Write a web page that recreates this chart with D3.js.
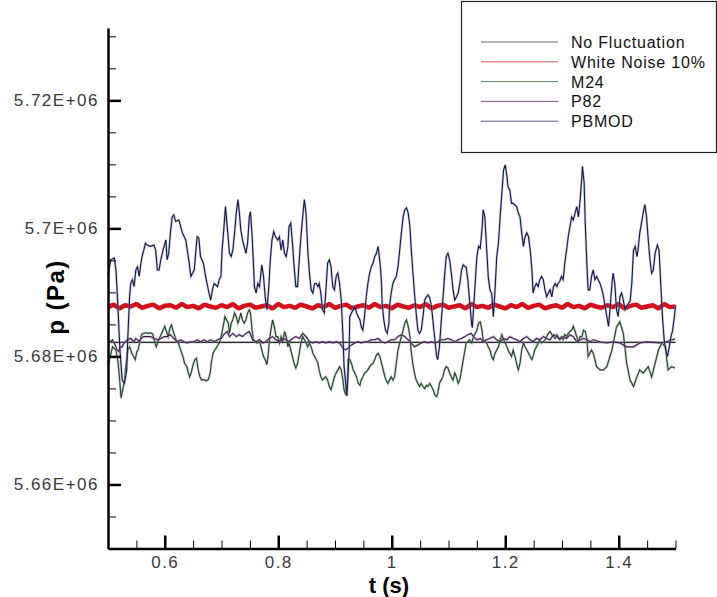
<!DOCTYPE html>
<html>
<head>
<meta charset="utf-8">
<script src="https://cdn.jsdelivr.net/npm/d3@7"></script>
<style>
  body { margin: 0; background: #fff; }
  svg { display: block; }
  text { font-family: "Liberation Sans", Arial, sans-serif; }
</style>
</head>
<body>
<div id="chart"></div>
<script>
// series, in legend order
const seriesNames = ["No Fluctuation", "White Noise 10%", "M24", "P82", "PBMOD"];
const seriesColors = ["#2b2b2b", "#d0101c", "#1d4a1d", "#4b1550", "#17174f"];

// [t (s), p (Pa)]
const noFluct = [[0.5, 5682200], [1.5, 5682200]];

const whiteNoiseTime = [0.50,0.51,0.52,0.53,0.54,0.55,0.56,0.57,0.58,0.59,0.60,0.61,0.62,0.63,0.64,0.65,0.66,0.67,0.68,0.69,
  0.70,0.71,0.72,0.73,0.74,0.75,0.76,0.77,0.78,0.79,0.80,0.81,0.82,0.83,0.84,0.85,0.86,0.87,0.88,0.89,
  0.90,0.91,0.92,0.93,0.94,0.95,0.96,0.97,0.98,0.99,1.00,1.01,1.02,1.03,1.04,1.05,1.06,1.07,1.08,1.09,
  1.10,1.11,1.12,1.13,1.14,1.15,1.16,1.17,1.18,1.19,1.20,1.21,1.22,1.23,1.24,1.25,1.26,1.27,1.28,1.29,
  1.30,1.31,1.32,1.33,1.34,1.35,1.36,1.37,1.38,1.39,1.40,1.41,1.42,1.43,1.44,1.45,1.46,1.47,1.48,1.49,1.50];
const whiteNoiseP = [5687700,5688100,5687500,5688000,5687800,5688200,5687600,5687900,5688100,5687500,
  5687900,5688000,5687600,5688200,5687700,5687900,5687500,5688100,5687800,5687600,
  5688000,5687700,5688200,5687500,5687900,5688100,5687600,5687800,5688000,5687500,
  5688200,5687700,5687900,5687600,5688100,5687800,5687500,5688000,5687700,5688200,
  5687600,5687900,5688100,5687500,5687800,5688000,5687600,5688200,5687700,5687900,
  5687500,5688100,5687800,5687600,5688000,5687700,5688200,5687500,5687900,5688100,
  5687600,5687800,5688000,5687500,5688200,5687700,5687900,5687600,5688100,5687800,
  5687500,5688000,5687700,5688200,5687600,5687900,5688100,5687500,5687800,5688000,
  5687600,5688200,5687700,5687900,5687500,5688100,5687800,5687600,5688000,5687700,
  5688200,5687500,5687900,5688100,5687600,5687800,5688000,5687500,5688200,5687700,
  5687800];

const m24 = [[0.500,5678700],[0.504,5680000],[0.508,5681500],[0.514,5681000],[0.518,5678900],[0.521,5675800],[0.523,5673500],[0.526,5674800],[0.529,5676300],[0.532,5678900],[0.535,5681000],[0.538,5681500],[0.542,5680500],[0.545,5680000],[0.548,5679500],[0.551,5680800],[0.553,5681000],[0.556,5682300],[0.559,5683400],[0.562,5683600],[0.566,5683700],[0.571,5683600],[0.575,5683700],[0.579,5683500],[0.582,5682300],[0.585,5681500],[0.588,5682300],[0.592,5683100],[0.596,5683900],[0.600,5684700],[0.603,5683900],[0.606,5683100],[0.609,5684400],[0.612,5684900],[0.615,5683900],[0.618,5683100],[0.620,5682600],[0.624,5682100],[0.628,5681000],[0.632,5680000],[0.635,5678900],[0.639,5678400],[0.641,5677600],[0.644,5676800],[0.647,5677600],[0.650,5678700],[0.653,5679500],[0.656,5679700],[0.659,5677900],[0.662,5676800],[0.665,5676300],[0.669,5676400],[0.673,5676200],[0.677,5676400],[0.680,5677400],[0.682,5678900],[0.685,5680500],[0.688,5681000],[0.692,5681500],[0.694,5681800],[0.697,5682300],[0.700,5683400],[0.703,5684700],[0.706,5686200],[0.709,5685700],[0.712,5685200],[0.714,5683600],[0.717,5685200],[0.720,5685700],[0.723,5686800],[0.726,5686200],[0.729,5685200],[0.731,5685700],[0.734,5686800],[0.737,5685700],[0.740,5685200],[0.743,5685700],[0.746,5686800],[0.749,5687300],[0.751,5686800],[0.754,5684100],[0.756,5682600],[0.760,5682300],[0.763,5682100],[0.766,5682300],[0.768,5682100],[0.771,5681000],[0.774,5680000],[0.777,5679500],[0.780,5678700],[0.782,5680000],[0.784,5682100],[0.787,5684100],[0.790,5685700],[0.793,5684700],[0.796,5683100],[0.799,5683100],[0.802,5682100],[0.805,5683100],[0.808,5682100],[0.811,5683900],[0.814,5683100],[0.817,5681500],[0.819,5682100],[0.822,5681000],[0.825,5680000],[0.828,5678900],[0.831,5678200],[0.834,5678900],[0.837,5680500],[0.840,5682100],[0.843,5683100],[0.846,5682600],[0.849,5682100],[0.852,5681500],[0.855,5682100],[0.858,5681500],[0.861,5680500],[0.864,5680000],[0.867,5679500],[0.870,5678900],[0.872,5677900],[0.875,5676800],[0.878,5676300],[0.881,5676600],[0.884,5676800],[0.887,5676300],[0.890,5675300],[0.893,5674800],[0.896,5675800],[0.899,5676800],[0.902,5677400],[0.905,5677900],[0.908,5678400],[0.911,5677900],[0.914,5676300],[0.916,5674800],[0.919,5674000],[0.922,5675800],[0.923,5679500],[0.926,5679500],[0.929,5678900],[0.932,5677900],[0.935,5677400],[0.938,5676800],[0.941,5675800],[0.944,5675500],[0.946,5676300],[0.949,5676800],[0.952,5677400],[0.955,5677600],[0.958,5677900],[0.961,5678400],[0.964,5678700],[0.967,5678900],[0.970,5679500],[0.973,5680200],[0.976,5680500],[0.979,5680000],[0.982,5678900],[0.985,5677900],[0.988,5676800],[0.990,5676300],[0.993,5675800],[0.996,5676300],[0.999,5676800],[1.002,5676300],[1.005,5676800],[1.008,5678900],[1.011,5681000],[1.014,5682100],[1.017,5683100],[1.020,5684100],[1.023,5685200],[1.026,5685700],[1.029,5684700],[1.032,5683100],[1.034,5681000],[1.037,5678900],[1.040,5677400],[1.043,5676300],[1.046,5675800],[1.049,5675300],[1.052,5675800],[1.055,5675300],[1.058,5675000],[1.061,5675500],[1.064,5675300],[1.067,5675800],[1.070,5675300],[1.073,5674800],[1.076,5674000],[1.079,5673700],[1.081,5674200],[1.084,5675800],[1.087,5676300],[1.090,5676800],[1.093,5677900],[1.096,5678400],[1.099,5678200],[1.102,5677400],[1.105,5676800],[1.108,5676300],[1.111,5677400],[1.114,5676800],[1.117,5675800],[1.120,5676300],[1.123,5677900],[1.126,5679500],[1.129,5681000],[1.131,5682100],[1.134,5682300],[1.137,5682600],[1.141,5682100],[1.144,5683100],[1.147,5683600],[1.150,5684100],[1.153,5685200],[1.156,5685400],[1.159,5684100],[1.161,5682600],[1.164,5682300],[1.167,5682100],[1.170,5681500],[1.173,5681000],[1.176,5680000],[1.179,5679500],[1.182,5680500],[1.185,5681000],[1.188,5681500],[1.191,5682600],[1.194,5683400],[1.197,5682600],[1.200,5682100],[1.203,5681500],[1.205,5681000],[1.208,5680500],[1.211,5680000],[1.214,5681000],[1.217,5680000],[1.220,5678900],[1.223,5677900],[1.226,5678900],[1.229,5681000],[1.232,5682100],[1.235,5681500],[1.238,5681000],[1.241,5680500],[1.244,5680000],[1.247,5679500],[1.249,5680000],[1.252,5681000],[1.255,5681500],[1.258,5682100],[1.261,5682600],[1.264,5682100],[1.267,5682300],[1.270,5682600],[1.273,5683100],[1.276,5683600],[1.279,5683900],[1.282,5683400],[1.285,5683100],[1.288,5682800],[1.291,5683400],[1.293,5683100],[1.296,5682800],[1.299,5683100],[1.302,5682600],[1.305,5683400],[1.308,5683100],[1.311,5683600],[1.314,5683900],[1.317,5684100],[1.320,5684700],[1.323,5683900],[1.326,5683100],[1.329,5682300],[1.332,5683100],[1.335,5683100],[1.338,5684100],[1.341,5683900],[1.344,5682600],[1.346,5680000],[1.349,5680500],[1.352,5681000],[1.355,5680500],[1.358,5679500],[1.361,5678400],[1.367,5677900],[1.373,5677900],[1.379,5678400],[1.388,5681000],[1.396,5684600],[1.402,5685400],[1.408,5683600],[1.414,5678900],[1.420,5676300],[1.426,5675300],[1.432,5676800],[1.437,5677900],[1.443,5677400],[1.452,5678400],[1.458,5676800],[1.464,5678900],[1.470,5681000],[1.476,5682100],[1.482,5681500],[1.484,5680000],[1.487,5677900],[1.493,5678400],[1.499,5678200]];

const p82 = [[0.500,5682300],[0.504,5682300],[0.508,5682600],[0.511,5682100],[0.514,5681500],[0.516,5681000],[0.519,5680800],[0.522,5681500],[0.525,5681500],[0.528,5682100],[0.531,5682300],[0.534,5682600],[0.540,5682800],[0.546,5682300],[0.549,5682800],[0.552,5682600],[0.555,5682300],[0.558,5682800],[0.563,5683100],[0.569,5683100],[0.575,5683100],[0.581,5682800],[0.587,5682600],[0.593,5682800],[0.599,5683100],[0.604,5683100],[0.610,5683400],[0.616,5682800],[0.622,5682300],[0.628,5682600],[0.634,5682300],[0.640,5682100],[0.646,5682300],[0.652,5682300],[0.657,5682600],[0.663,5682300],[0.669,5682600],[0.675,5682300],[0.681,5682600],[0.687,5682300],[0.693,5682600],[0.699,5682800],[0.704,5683400],[0.710,5683900],[0.714,5683100],[0.720,5683600],[0.726,5683100],[0.731,5683400],[0.737,5683100],[0.743,5683600],[0.749,5683900],[0.755,5682600],[0.761,5682300],[0.767,5682600],[0.773,5682100],[0.778,5682300],[0.784,5682800],[0.790,5683100],[0.796,5682600],[0.802,5682300],[0.808,5682800],[0.814,5682600],[0.819,5682300],[0.825,5682800],[0.831,5683100],[0.837,5682800],[0.843,5683600],[0.849,5683100],[0.855,5682300],[0.861,5682100],[0.867,5682300],[0.872,5682100],[0.878,5682300],[0.884,5682100],[0.890,5682300],[0.896,5682100],[0.902,5682300],[0.908,5682100],[0.914,5681300],[0.919,5681000],[0.925,5681500],[0.929,5681800],[0.935,5682100],[0.941,5682300],[0.946,5682100],[0.952,5682300],[0.958,5682300],[0.964,5682600],[0.970,5682600],[0.976,5682800],[0.982,5682300],[0.988,5682100],[0.993,5682300],[0.999,5682600],[1.005,5682600],[1.011,5683100],[1.017,5683400],[1.023,5683100],[1.029,5682600],[1.034,5682100],[1.040,5681500],[1.046,5681800],[1.052,5682100],[1.058,5682300],[1.064,5682100],[1.070,5682300],[1.076,5682100],[1.081,5682300],[1.087,5682600],[1.093,5682600],[1.099,5682800],[1.105,5682600],[1.111,5682300],[1.117,5682600],[1.123,5682800],[1.129,5683100],[1.134,5683400],[1.140,5683600],[1.144,5683100],[1.150,5682600],[1.156,5682800],[1.161,5682300],[1.167,5682600],[1.173,5682800],[1.179,5683100],[1.185,5682600],[1.191,5682300],[1.197,5682800],[1.203,5682600],[1.208,5683100],[1.214,5682800],[1.220,5682600],[1.226,5682300],[1.232,5682800],[1.238,5683100],[1.244,5682600],[1.249,5682300],[1.255,5682800],[1.261,5682600],[1.267,5683100],[1.273,5682800],[1.279,5682600],[1.285,5683400],[1.291,5683100],[1.296,5682600],[1.302,5683100],[1.308,5682800],[1.314,5683400],[1.320,5683100],[1.326,5682300],[1.332,5682600],[1.338,5682800],[1.344,5682600],[1.349,5682300],[1.355,5682600],[1.367,5682300],[1.379,5682100],[1.390,5682300],[1.402,5682100],[1.414,5681500],[1.426,5681500],[1.437,5682100],[1.449,5682300],[1.461,5682200],[1.473,5682100],[1.484,5682300],[1.493,5682600],[1.499,5682700]];

const pbmod = [[0.500,5692700],[0.505,5695100],[0.511,5695400],[0.514,5693500],[0.516,5690400],[0.521,5681000],[0.525,5676300],[0.529,5675800],[0.533,5677900],[0.535,5683100],[0.538,5689300],[0.540,5691400],[0.543,5692000],[0.546,5690900],[0.549,5693500],[0.552,5694000],[0.555,5692500],[0.558,5694600],[0.560,5695600],[0.563,5696600],[0.566,5697700],[0.569,5697400],[0.575,5697200],[0.581,5697400],[0.584,5696600],[0.587,5693500],[0.590,5693500],[0.593,5695100],[0.597,5696600],[0.602,5698200],[0.604,5695100],[0.607,5696100],[0.610,5699300],[0.613,5701800],[0.616,5702100],[0.619,5701100],[0.625,5701300],[0.631,5699300],[0.637,5698200],[0.643,5694600],[0.646,5692500],[0.649,5693000],[0.652,5693500],[0.657,5698700],[0.660,5698500],[0.663,5695600],[0.668,5694600],[0.672,5692500],[0.678,5689900],[0.681,5688800],[0.684,5690400],[0.687,5691400],[0.693,5690900],[0.696,5692000],[0.699,5692500],[0.701,5696600],[0.704,5699800],[0.707,5703400],[0.711,5699300],[0.714,5696100],[0.717,5695600],[0.720,5696600],[0.723,5699300],[0.726,5702400],[0.729,5704500],[0.731,5702900],[0.734,5699800],[0.737,5698200],[0.740,5697200],[0.743,5696100],[0.746,5697700],[0.749,5701800],[0.751,5702600],[0.754,5698700],[0.756,5695100],[0.758,5690900],[0.761,5689900],[0.764,5691400],[0.767,5690900],[0.770,5693500],[0.771,5694300],[0.774,5692500],[0.777,5689300],[0.780,5687300],[0.783,5690400],[0.786,5695100],[0.789,5698200],[0.792,5699500],[0.795,5698700],[0.799,5698200],[0.802,5698700],[0.805,5696600],[0.808,5698200],[0.811,5696100],[0.814,5695600],[0.817,5697200],[0.819,5700300],[0.822,5700800],[0.825,5697700],[0.828,5694000],[0.831,5690900],[0.834,5690900],[0.837,5695100],[0.840,5698700],[0.843,5701800],[0.846,5704500],[0.849,5702400],[0.852,5696600],[0.855,5693000],[0.858,5690400],[0.861,5689900],[0.864,5691400],[0.867,5691400],[0.870,5690900],[0.872,5691400],[0.875,5689900],[0.878,5687300],[0.881,5686800],[0.884,5690400],[0.887,5694600],[0.890,5695100],[0.893,5694000],[0.896,5690900],[0.899,5690400],[0.902,5692500],[0.905,5693000],[0.908,5691400],[0.911,5688800],[0.914,5683100],[0.916,5678400],[0.921,5673800],[0.925,5681000],[0.926,5686200],[0.929,5686800],[0.932,5687300],[0.935,5687800],[0.938,5686800],[0.941,5686200],[0.944,5685700],[0.946,5684700],[0.949,5684100],[0.952,5686200],[0.955,5689300],[0.958,5691400],[0.961,5693000],[0.964,5694000],[0.967,5694600],[0.970,5695600],[0.973,5696100],[0.976,5697200],[0.978,5695600],[0.980,5694000],[0.982,5691400],[0.983,5688300],[0.986,5685700],[0.989,5684100],[0.992,5683600],[0.995,5685200],[0.996,5687800],[0.999,5689900],[1.002,5691400],[1.005,5692000],[1.008,5692500],[1.011,5694000],[1.014,5696600],[1.017,5699300],[1.020,5701800],[1.023,5702900],[1.026,5703200],[1.029,5702400],[1.032,5700300],[1.034,5697200],[1.037,5693500],[1.040,5689900],[1.043,5686800],[1.046,5684100],[1.049,5683600],[1.052,5684100],[1.055,5686200],[1.058,5688800],[1.061,5689300],[1.064,5689600],[1.067,5689100],[1.070,5687800],[1.073,5685200],[1.076,5682600],[1.079,5680000],[1.081,5679500],[1.084,5681500],[1.087,5685200],[1.090,5688800],[1.093,5692500],[1.096,5695600],[1.099,5696100],[1.102,5695100],[1.105,5693000],[1.108,5690400],[1.111,5688800],[1.114,5689300],[1.117,5689900],[1.120,5691400],[1.123,5693500],[1.126,5694300],[1.129,5694000],[1.131,5694000],[1.134,5692000],[1.137,5688800],[1.141,5684900],[1.142,5684500],[1.147,5691400],[1.150,5695600],[1.153,5697200],[1.156,5696900],[1.159,5699800],[1.161,5702900],[1.164,5701800],[1.167,5697200],[1.170,5692500],[1.173,5690400],[1.176,5689900],[1.179,5686200],[1.182,5690400],[1.185,5695600],[1.188,5697700],[1.191,5701800],[1.194,5705500],[1.197,5709100],[1.200,5709900],[1.203,5708100],[1.205,5706500],[1.208,5706000],[1.211,5703900],[1.214,5703900],[1.220,5703400],[1.223,5702400],[1.226,5701800],[1.229,5699300],[1.232,5697200],[1.235,5698700],[1.238,5699300],[1.241,5698700],[1.244,5696600],[1.247,5693500],[1.249,5689900],[1.252,5690900],[1.255,5691400],[1.258,5690900],[1.261,5692000],[1.264,5692500],[1.267,5692000],[1.270,5690400],[1.273,5689300],[1.276,5689900],[1.279,5690400],[1.282,5689300],[1.285,5690900],[1.288,5691400],[1.291,5690900],[1.293,5691400],[1.296,5691700],[1.299,5692500],[1.302,5692000],[1.305,5694600],[1.308,5696600],[1.311,5698700],[1.314,5700300],[1.317,5701800],[1.320,5701300],[1.323,5702400],[1.326,5703400],[1.329,5701800],[1.332,5704500],[1.335,5708100],[1.336,5709700],[1.339,5707100],[1.341,5700800],[1.344,5694000],[1.346,5690400],[1.349,5690400],[1.352,5692500],[1.355,5693500],[1.358,5692000],[1.361,5692500],[1.367,5691400],[1.372,5689900],[1.376,5687800],[1.379,5686200],[1.382,5684700],[1.385,5687800],[1.388,5691400],[1.390,5693000],[1.393,5691400],[1.396,5687300],[1.399,5686200],[1.402,5689300],[1.405,5689900],[1.408,5688800],[1.411,5687300],[1.414,5687800],[1.417,5688300],[1.420,5688600],[1.423,5691400],[1.426,5696600],[1.429,5697200],[1.432,5695600],[1.434,5696600],[1.437,5699300],[1.440,5700800],[1.443,5702400],[1.446,5703700],[1.449,5701800],[1.452,5698200],[1.455,5695100],[1.458,5693000],[1.461,5693500],[1.464,5696100],[1.468,5697400],[1.471,5696600],[1.474,5691400],[1.477,5686200],[1.480,5682600],[1.483,5681000],[1.486,5680000],[1.489,5681500],[1.492,5683100],[1.495,5684100],[1.498,5686200],[1.500,5688000]];

const xTicks = [0.6, 0.8, 1.0, 1.2, 1.4];
const yTicks = [5660000, 5680000, 5700000, 5720000];
const xLabel = "t (s)";
const yLabel = "p (Pa)";

const width = 717, height = 597;
const plot = {left: 108, right: 675.5, top: 28, bottom: 548.5};

const svg = d3.select("#chart").append("svg")
    .attr("width", width)
    .attr("height", height);

const x = d3.scaleLinear().domain([0.5, 1.5]).range([plot.left, plot.right]);
const y = d3.scaleLinear().domain([5650000, 5731300]).range([plot.bottom, plot.top]);

const whiteNoise = whiteNoiseTime.map((t, i) => [t, whiteNoiseP[i]]);
const series = [noFluct, whiteNoise, m24, p82, pbmod];

const line = d3.line().x(d => x(d[0])).y(d => y(d[1]));

const lines = svg.append("g");
series.forEach((s, i) => {
    if (i == 1) {
        lines.append("path")
            .attr("d", line(s))
            .attr("fill", "none")
            .attr("stroke", seriesColors[i])
            .attr("stroke-width", 4.5)
            .attr("stroke-linejoin", "bevel");
        return;
    }
    // soft grey edge the reference lines have
    lines.append("path")
        .attr("d", line(s))
        .attr("fill", "none")
        .attr("stroke", "#9da1ae")
        .attr("stroke-width", 2.4)
        .attr("opacity", 0.55);
    lines.append("path")
        .attr("d", line(s))
        .attr("fill", "none")
        .attr("stroke", seriesColors[i])
        .attr("stroke-width", 1.1);
});

// axes: minor ticks, then major ticks with labels
const axisFont = g => g.selectAll("text")
    .attr("font-size", 17)
    .attr("fill", "#3a3a3a")
    .attr("letter-spacing", "1.5px")
    .style("font-family", "'Liberation Sans', Arial, sans-serif");

svg.append("g")
    .attr("transform", `translate(${plot.left},0)`)
    .call(d3.axisLeft(y).tickValues(d3.range(5650000, 5731000, 5000)).tickSize(-8).tickFormat(""))
    .call(g => g.select(".domain").remove())
    .call(g => g.selectAll("line").attr("stroke", "#000").attr("stroke-width", 1));

svg.append("g")
    .attr("transform", `translate(${plot.left},0)`)
    .call(d3.axisLeft(y).tickValues(yTicks).tickSize(-13).tickSizeOuter(0).tickPadding(9)
        .tickFormat(d => (d / 1e6).toFixed(2).replace(/0$/, "") + "E+06"))
    .call(g => g.select(".domain").attr("stroke", "#000").attr("stroke-width", 2.5))
    .call(g => g.selectAll(".tick line").attr("stroke", "#000").attr("stroke-width", 2.5))
    .call(axisFont);

svg.append("g")
    .attr("transform", `translate(0,${plot.bottom})`)
    .call(d3.axisBottom(x).tickValues(d3.range(0.55, 1.51, 0.05)).tickSize(-8).tickFormat(""))
    .call(g => g.select(".domain").remove())
    .call(g => g.selectAll("line").attr("stroke", "#000").attr("stroke-width", 1));

svg.append("g")
    .attr("transform", `translate(0,${plot.bottom})`)
    .call(d3.axisBottom(x).tickValues(xTicks).tickSize(-13).tickSizeOuter(0).tickPadding(7)
        .tickFormat(d => String(+d.toFixed(2))))
    .call(g => g.select(".domain").attr("stroke", "#000").attr("stroke-width", 2.5))
    .call(g => g.selectAll(".tick line").attr("stroke", "#000").attr("stroke-width", 2.5))
    .call(axisFont);

svg.append("text")
    .attr("transform", "translate(64,297) rotate(-90)")
    .attr("text-anchor", "middle")
    .attr("font-size", 24)
    .attr("font-weight", "bold")
    .attr("letter-spacing", "1.5px")
    .text(yLabel);

svg.append("text")
    .attr("x", 389)
    .attr("y", 593)
    .attr("text-anchor", "middle")
    .attr("font-size", 22)
    .attr("font-weight", "bold")
    .text(xLabel);

// legend
const legend = svg.append("g");
legend.append("rect")
    .attr("x", 461.5).attr("y", 1.5)
    .attr("width", 255).attr("height", 151)
    .attr("fill", "#fff")
    .attr("stroke", "#222")
    .attr("stroke-width", 1.2);

seriesNames.forEach((name, i) => {
    const ly = 42 + i * 19.8;
    legend.append("line")
        .attr("x1", 481).attr("x2", 558)
        .attr("y1", ly).attr("y2", ly)
        .attr("stroke", seriesColors[i])
        .attr("stroke-width", 1)
        .attr("opacity", 0.7);
    legend.append("text")
        .attr("x", 571)
        .attr("y", ly + 6)
        .attr("font-size", 16)
        .attr("letter-spacing", "0.8px")
        .attr("fill", "#111")
        .text(name);
});
</script>
</body>
</html>
